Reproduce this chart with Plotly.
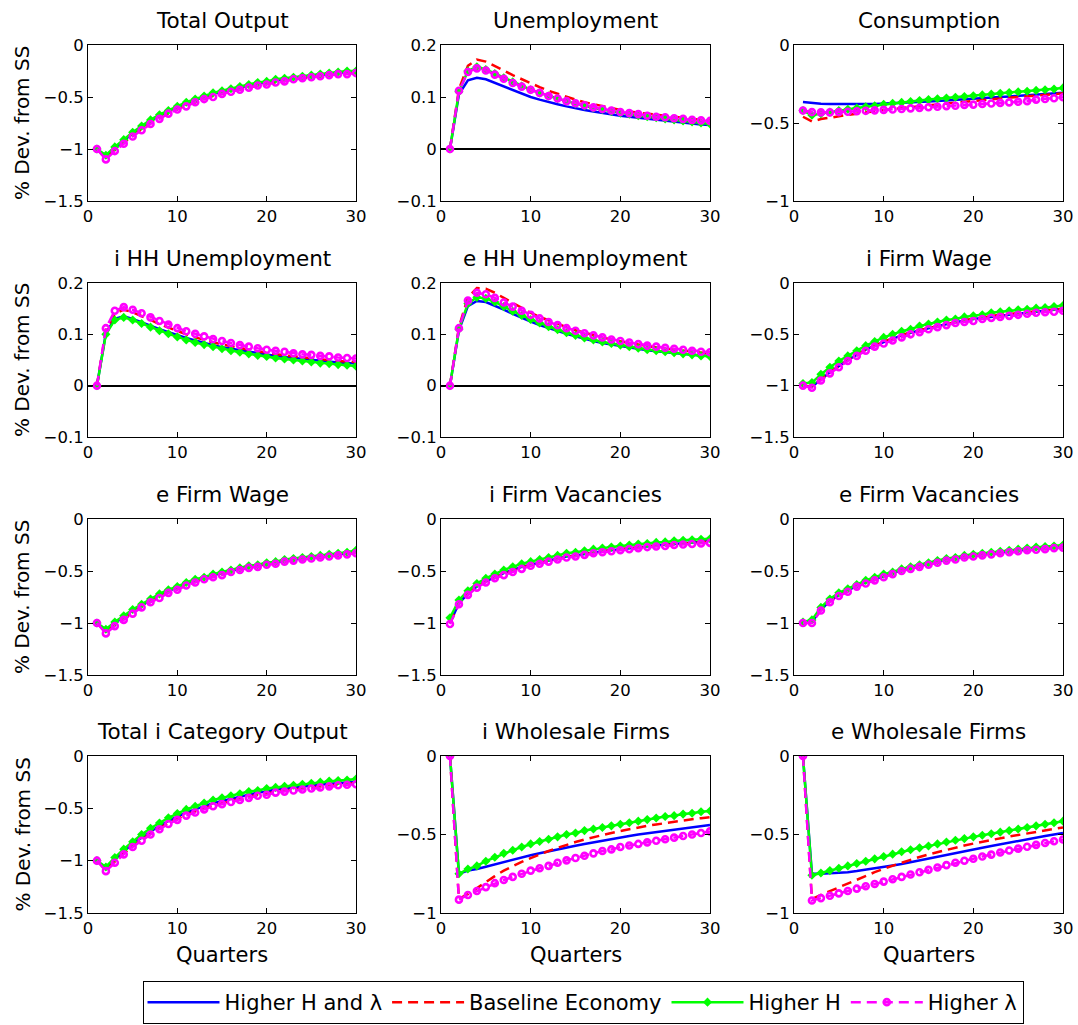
import plotly.graph_objects as go

W, H = 1078, 1025
FONT = "DejaVu Sans"

quarters = list(range(1, 31))
series_names = ["Higher H and λ", "Baseline Economy", "Higher H", "Higher λ"]
panel_titles = ["Total Output", "Unemployment", "Consumption",
                "i HH Unemployment", "e HH Unemployment", "i Firm Wage",
                "e Firm Wage", "i Firm Vacancies", "e Firm Vacancies",
                "Total i Category Output", "i Wholesale Firms", "e Wholesale Firms"]
x_ticks = [0, 10, 20, 30]
y_ticks = {
    "a": [-1.5, -1, -0.5, 0],
    "b": [-0.1, 0, 0.1, 0.2],
    "c": [-1, -0.5, 0],
}
y_tick_text = {
    "a": ["−1.5", "−1", "−0.5", "0"],
    "b": ["−0.1", "0", "0.1", "0.2"],
    "c": ["−1", "−0.5", "0"],
}
panel_scale = ["a", "b", "c", "b", "b", "a", "a", "a", "a", "a", "c", "c"]

# ---- Total Output
TO_b = [-1.00,-1.07,-0.99,-0.92,-0.85,-0.79,-0.73,-0.68,-0.64,-0.60,-0.56,-0.53,-0.50,-0.47,-0.45,-0.43,-0.41,-0.39,-0.37,-0.36,-0.34,-0.33,-0.32,-0.31,-0.30,-0.29,-0.28,-0.27,-0.26,-0.26]
TO_r = [-1.00,-1.09,-1.01,-0.94,-0.87,-0.81,-0.75,-0.70,-0.66,-0.62,-0.58,-0.55,-0.52,-0.49,-0.47,-0.45,-0.43,-0.41,-0.39,-0.37,-0.36,-0.34,-0.33,-0.32,-0.31,-0.30,-0.29,-0.28,-0.27,-0.27]
TO_g = [-1.00,-1.06,-0.98,-0.91,-0.84,-0.78,-0.72,-0.67,-0.63,-0.59,-0.55,-0.52,-0.49,-0.46,-0.44,-0.42,-0.40,-0.38,-0.36,-0.35,-0.33,-0.32,-0.31,-0.30,-0.29,-0.28,-0.27,-0.26,-0.25,-0.25]
TO_m = [-1.00,-1.10,-1.02,-0.95,-0.88,-0.82,-0.76,-0.71,-0.66,-0.62,-0.59,-0.55,-0.52,-0.50,-0.47,-0.45,-0.43,-0.41,-0.39,-0.38,-0.36,-0.35,-0.33,-0.32,-0.31,-0.30,-0.29,-0.28,-0.28,-0.27]
# ---- Unemployment
UN_b = [0,0.105,0.132,0.137,0.134,0.127,0.120,0.113,0.106,0.100,0.095,0.090,0.086,0.082,0.078,0.075,0.072,0.069,0.066,0.064,0.062,0.060,0.058,0.056,0.054,0.052,0.050,0.049,0.047,0.046]
UN_r = [0,0.115,0.160,0.172,0.168,0.160,0.151,0.142,0.134,0.126,0.119,0.112,0.106,0.100,0.095,0.090,0.086,0.082,0.078,0.075,0.072,0.070,0.067,0.065,0.063,0.061,0.059,0.058,0.056,0.055]
UN_g = [0,0.110,0.150,0.158,0.153,0.145,0.137,0.129,0.121,0.114,0.108,0.102,0.097,0.092,0.087,0.083,0.079,0.076,0.072,0.069,0.067,0.064,0.062,0.060,0.058,0.056,0.054,0.052,0.050,0.048]
UN_m = [0,0.112,0.148,0.155,0.151,0.143,0.135,0.127,0.120,0.114,0.108,0.102,0.097,0.092,0.088,0.084,0.080,0.077,0.074,0.071,0.069,0.067,0.064,0.062,0.061,0.059,0.058,0.056,0.055,0.054]
# ---- Consumption
CO_b = [-0.365,-0.372,-0.376,-0.378,-0.379,-0.380,-0.380,-0.379,-0.378,-0.376,-0.374,-0.371,-0.368,-0.365,-0.362,-0.359,-0.356,-0.352,-0.349,-0.345,-0.342,-0.338,-0.334,-0.330,-0.326,-0.322,-0.318,-0.314,-0.310,-0.306]
CO_r = [-0.460,-0.490,-0.475,-0.465,-0.456,-0.448,-0.440,-0.432,-0.425,-0.418,-0.411,-0.404,-0.398,-0.392,-0.386,-0.380,-0.374,-0.368,-0.363,-0.358,-0.353,-0.348,-0.343,-0.338,-0.333,-0.328,-0.324,-0.319,-0.315,-0.310]
CO_g = [-0.420,-0.450,-0.440,-0.430,-0.420,-0.412,-0.404,-0.396,-0.389,-0.380,-0.374,-0.368,-0.362,-0.356,-0.350,-0.345,-0.340,-0.335,-0.330,-0.325,-0.320,-0.315,-0.310,-0.305,-0.300,-0.296,-0.291,-0.287,-0.282,-0.275]
CO_m = [-0.420,-0.430,-0.432,-0.432,-0.430,-0.428,-0.425,-0.422,-0.419,-0.416,-0.413,-0.410,-0.406,-0.403,-0.399,-0.396,-0.392,-0.389,-0.385,-0.382,-0.378,-0.375,-0.371,-0.368,-0.364,-0.360,-0.350,-0.346,-0.341,-0.335]
# ---- i HH Unemployment
IU_b = [0,0.102,0.130,0.135,0.130,0.124,0.117,0.110,0.104,0.098,0.093,0.088,0.083,0.079,0.075,0.072,0.069,0.066,0.063,0.060,0.058,0.056,0.054,0.052,0.050,0.048,0.047,0.045,0.044,0.043]
IU_r = [0,0.108,0.140,0.148,0.143,0.136,0.128,0.120,0.113,0.106,0.100,0.094,0.089,0.085,0.080,0.077,0.073,0.070,0.067,0.064,0.062,0.059,0.057,0.055,0.053,0.052,0.050,0.048,0.047,0.046]
IU_g = [0,0.100,0.128,0.133,0.128,0.121,0.114,0.107,0.101,0.095,0.089,0.084,0.080,0.076,0.072,0.068,0.065,0.062,0.059,0.057,0.054,0.052,0.050,0.048,0.046,0.044,0.043,0.041,0.040,0.038]
IU_m = [0,0.112,0.146,0.153,0.148,0.141,0.133,0.126,0.119,0.112,0.106,0.101,0.096,0.091,0.087,0.083,0.079,0.076,0.073,0.070,0.068,0.066,0.063,0.061,0.060,0.058,0.057,0.055,0.054,0.053]
# ---- e HH Unemployment
EU_b = [0,0.108,0.155,0.165,0.163,0.156,0.148,0.140,0.132,0.125,0.118,0.112,0.106,0.101,0.096,0.091,0.087,0.083,0.080,0.077,0.074,0.072,0.069,0.067,0.065,0.063,0.061,0.060,0.059,0.058]
EU_r = [0,0.114,0.172,0.190,0.189,0.181,0.171,0.161,0.151,0.142,0.134,0.127,0.120,0.114,0.108,0.103,0.098,0.094,0.090,0.086,0.083,0.080,0.077,0.075,0.072,0.070,0.068,0.066,0.065,0.063]
EU_g = [0,0.110,0.160,0.172,0.170,0.163,0.154,0.145,0.137,0.129,0.122,0.115,0.109,0.103,0.098,0.093,0.089,0.085,0.082,0.079,0.076,0.073,0.070,0.068,0.066,0.064,0.062,0.060,0.058,0.057]
EU_m = [0,0.112,0.166,0.181,0.178,0.171,0.162,0.154,0.146,0.138,0.131,0.124,0.118,0.112,0.107,0.102,0.098,0.094,0.090,0.087,0.084,0.081,0.078,0.076,0.074,0.072,0.070,0.068,0.066,0.065]
# ---- i Firm Wage
IW_b = [-1.00,-1.01,-0.94,-0.87,-0.81,-0.75,-0.70,-0.65,-0.61,-0.575,-0.54,-0.51,-0.485,-0.46,-0.44,-0.42,-0.40,-0.38,-0.365,-0.35,-0.34,-0.325,-0.315,-0.305,-0.295,-0.285,-0.275,-0.265,-0.26,-0.25]
IW_r = [-1.00,-1.01,-0.94,-0.87,-0.81,-0.75,-0.70,-0.65,-0.61,-0.57,-0.54,-0.51,-0.48,-0.46,-0.44,-0.42,-0.40,-0.38,-0.36,-0.35,-0.34,-0.32,-0.31,-0.30,-0.29,-0.28,-0.27,-0.265,-0.26,-0.25]
IW_g = [-0.98,-0.97,-0.89,-0.82,-0.76,-0.71,-0.66,-0.61,-0.57,-0.53,-0.50,-0.47,-0.45,-0.42,-0.40,-0.38,-0.36,-0.35,-0.33,-0.32,-0.31,-0.29,-0.28,-0.27,-0.26,-0.255,-0.245,-0.24,-0.23,-0.22]
IW_m = [-1.00,-1.02,-0.95,-0.88,-0.82,-0.76,-0.71,-0.66,-0.62,-0.59,-0.56,-0.53,-0.50,-0.48,-0.45,-0.43,-0.41,-0.39,-0.38,-0.37,-0.35,-0.34,-0.33,-0.32,-0.31,-0.30,-0.29,-0.285,-0.28,-0.27]
# ---- e Firm Wage
EW_b = [-1.00,-1.07,-1.00,-0.94,-0.88,-0.83,-0.78,-0.73,-0.69,-0.66,-0.62,-0.59,-0.57,-0.54,-0.52,-0.50,-0.48,-0.46,-0.45,-0.43,-0.42,-0.40,-0.39,-0.38,-0.37,-0.36,-0.35,-0.34,-0.33,-0.31]
EW_r = [-1.00,-1.09,-1.02,-0.96,-0.90,-0.84,-0.79,-0.75,-0.70,-0.67,-0.63,-0.60,-0.57,-0.55,-0.53,-0.50,-0.48,-0.46,-0.45,-0.43,-0.42,-0.40,-0.39,-0.38,-0.37,-0.36,-0.35,-0.34,-0.33,-0.32]
EW_g = [-1.00,-1.06,-0.99,-0.93,-0.87,-0.82,-0.77,-0.72,-0.68,-0.65,-0.61,-0.58,-0.56,-0.53,-0.51,-0.49,-0.47,-0.45,-0.44,-0.42,-0.41,-0.39,-0.38,-0.37,-0.36,-0.35,-0.34,-0.33,-0.32,-0.30]
EW_m = [-1.00,-1.10,-1.03,-0.97,-0.91,-0.85,-0.80,-0.76,-0.71,-0.68,-0.64,-0.61,-0.58,-0.56,-0.54,-0.51,-0.49,-0.47,-0.46,-0.44,-0.43,-0.41,-0.40,-0.39,-0.38,-0.37,-0.36,-0.35,-0.34,-0.33]
# ---- i Firm Vacancies
IV_b = [-1.00,-0.81,-0.72,-0.65,-0.60,-0.56,-0.52,-0.49,-0.46,-0.44,-0.42,-0.40,-0.38,-0.36,-0.35,-0.335,-0.32,-0.31,-0.30,-0.29,-0.28,-0.27,-0.26,-0.25,-0.245,-0.24,-0.23,-0.225,-0.22,-0.21]
IV_r = [-1.00,-0.81,-0.72,-0.65,-0.60,-0.56,-0.53,-0.50,-0.47,-0.44,-0.42,-0.40,-0.38,-0.365,-0.35,-0.335,-0.32,-0.31,-0.30,-0.29,-0.28,-0.27,-0.26,-0.255,-0.25,-0.24,-0.235,-0.23,-0.22,-0.215]
IV_g = [-0.95,-0.78,-0.69,-0.62,-0.57,-0.53,-0.49,-0.46,-0.43,-0.41,-0.39,-0.37,-0.35,-0.33,-0.32,-0.305,-0.29,-0.28,-0.27,-0.26,-0.25,-0.24,-0.235,-0.225,-0.22,-0.21,-0.205,-0.20,-0.195,-0.19]
IV_m = [-1.01,-0.82,-0.73,-0.66,-0.61,-0.57,-0.54,-0.51,-0.48,-0.45,-0.43,-0.41,-0.39,-0.37,-0.36,-0.345,-0.33,-0.32,-0.31,-0.30,-0.29,-0.28,-0.27,-0.265,-0.26,-0.25,-0.245,-0.24,-0.235,-0.23]
# ---- e Firm Vacancies
EV_b = [-1.00,-0.99,-0.87,-0.79,-0.73,-0.69,-0.64,-0.61,-0.58,-0.55,-0.52,-0.49,-0.47,-0.45,-0.43,-0.41,-0.39,-0.38,-0.36,-0.35,-0.34,-0.33,-0.32,-0.31,-0.30,-0.29,-0.285,-0.28,-0.27,-0.265]
EV_r = [-1.00,-0.99,-0.87,-0.79,-0.73,-0.69,-0.64,-0.61,-0.58,-0.55,-0.52,-0.50,-0.47,-0.45,-0.43,-0.41,-0.40,-0.38,-0.37,-0.36,-0.34,-0.33,-0.32,-0.31,-0.30,-0.295,-0.29,-0.28,-0.275,-0.27]
EV_g = [-0.99,-0.97,-0.85,-0.77,-0.71,-0.67,-0.63,-0.59,-0.56,-0.53,-0.51,-0.48,-0.46,-0.44,-0.42,-0.40,-0.38,-0.37,-0.35,-0.34,-0.33,-0.32,-0.31,-0.30,-0.29,-0.28,-0.27,-0.265,-0.26,-0.25]
EV_m = [-1.00,-1.00,-0.88,-0.80,-0.74,-0.70,-0.65,-0.62,-0.59,-0.56,-0.53,-0.50,-0.48,-0.46,-0.44,-0.42,-0.40,-0.39,-0.37,-0.36,-0.35,-0.34,-0.33,-0.32,-0.31,-0.30,-0.295,-0.29,-0.28,-0.275]
# ---- Total i Category Output
TI_b = [-1.00,-1.07,-0.99,-0.91,-0.84,-0.78,-0.72,-0.67,-0.62,-0.58,-0.54,-0.51,-0.48,-0.45,-0.43,-0.41,-0.39,-0.37,-0.35,-0.34,-0.32,-0.31,-0.30,-0.29,-0.28,-0.27,-0.265,-0.26,-0.25,-0.245]
TI_r = [-1.00,-1.09,-1.01,-0.93,-0.86,-0.80,-0.74,-0.69,-0.64,-0.60,-0.56,-0.53,-0.50,-0.47,-0.45,-0.43,-0.41,-0.39,-0.37,-0.36,-0.34,-0.33,-0.32,-0.31,-0.30,-0.29,-0.28,-0.27,-0.265,-0.26]
TI_g = [-1.00,-1.06,-0.97,-0.89,-0.82,-0.75,-0.69,-0.64,-0.59,-0.55,-0.51,-0.48,-0.45,-0.42,-0.40,-0.38,-0.36,-0.34,-0.33,-0.31,-0.30,-0.29,-0.28,-0.27,-0.26,-0.25,-0.24,-0.235,-0.23,-0.22]
TI_m = [-1.00,-1.10,-1.02,-0.94,-0.87,-0.81,-0.75,-0.70,-0.65,-0.61,-0.57,-0.54,-0.51,-0.48,-0.46,-0.44,-0.42,-0.40,-0.38,-0.37,-0.35,-0.34,-0.33,-0.32,-0.31,-0.30,-0.29,-0.28,-0.275,-0.27]
# ---- i Wholesale Firms
IF_b = [0,-0.750,-0.730,-0.720,-0.705,-0.690,-0.675,-0.660,-0.645,-0.632,-0.620,-0.607,-0.595,-0.583,-0.572,-0.561,-0.550,-0.540,-0.530,-0.520,-0.510,-0.500,-0.492,-0.484,-0.476,-0.468,-0.460,-0.453,-0.446,-0.440]
IF_r = [0,-0.910,-0.880,-0.840,-0.800,-0.765,-0.730,-0.700,-0.675,-0.650,-0.625,-0.605,-0.585,-0.565,-0.548,-0.532,-0.517,-0.503,-0.490,-0.478,-0.466,-0.455,-0.445,-0.436,-0.427,-0.418,-0.410,-0.403,-0.396,-0.390]
IF_g = [0,-0.750,-0.720,-0.700,-0.670,-0.645,-0.620,-0.600,-0.580,-0.560,-0.545,-0.530,-0.515,-0.500,-0.490,-0.475,-0.465,-0.455,-0.445,-0.435,-0.425,-0.415,-0.405,-0.395,-0.385,-0.380,-0.370,-0.365,-0.355,-0.350]
IF_m = [0,-0.915,-0.885,-0.860,-0.835,-0.810,-0.790,-0.770,-0.750,-0.730,-0.715,-0.700,-0.680,-0.665,-0.650,-0.635,-0.620,-0.605,-0.595,-0.580,-0.570,-0.560,-0.550,-0.540,-0.530,-0.520,-0.510,-0.500,-0.490,-0.480]
# ---- e Wholesale Firms
EF_b = [0,-0.750,-0.750,-0.748,-0.745,-0.740,-0.733,-0.725,-0.717,-0.708,-0.698,-0.688,-0.677,-0.666,-0.655,-0.644,-0.632,-0.620,-0.608,-0.597,-0.585,-0.573,-0.562,-0.550,-0.540,-0.530,-0.520,-0.510,-0.500,-0.490]
EF_r = [0,-0.910,-0.885,-0.860,-0.835,-0.810,-0.785,-0.762,-0.740,-0.718,-0.698,-0.678,-0.660,-0.643,-0.627,-0.612,-0.597,-0.583,-0.570,-0.558,-0.546,-0.535,-0.524,-0.513,-0.503,-0.493,-0.483,-0.473,-0.464,-0.455]
EF_g = [0,-0.760,-0.745,-0.730,-0.715,-0.700,-0.685,-0.670,-0.655,-0.640,-0.625,-0.610,-0.597,-0.585,-0.573,-0.560,-0.548,-0.537,-0.526,-0.515,-0.505,-0.495,-0.485,-0.475,-0.465,-0.455,-0.445,-0.435,-0.425,-0.415]
EF_m = [0,-0.920,-0.905,-0.890,-0.875,-0.860,-0.845,-0.830,-0.815,-0.800,-0.785,-0.770,-0.755,-0.740,-0.725,-0.710,-0.695,-0.680,-0.667,-0.654,-0.640,-0.628,-0.615,-0.602,-0.590,-0.578,-0.566,-0.554,-0.543,-0.532]

panel_data = [
    (TO_b, TO_r, TO_g, TO_m), (UN_b, UN_r, UN_g, UN_m), (CO_b, CO_r, CO_g, CO_m),
    (IU_b, IU_r, IU_g, IU_m), (EU_b, EU_r, EU_g, EU_m), (IW_b, IW_r, IW_g, IW_m),
    (EW_b, EW_r, EW_g, EW_m), (IV_b, IV_r, IV_g, IV_m), (EV_b, EV_r, EV_g, EV_m),
    (TI_b, TI_r, TI_g, TI_m), (IF_b, IF_r, IF_g, IF_m), (EF_b, EF_r, EF_g, EF_m),
]

# ---- layout geometry (pixels)
col_px = [(88, 356), (441, 710), (794, 1063)]
row_px = [(45, 201), (283, 437), (519, 675), (756, 913)]

styles = [
    dict(mode="lines", line=dict(color="rgb(0,0,255)", width=2.5)),
    dict(mode="lines", line=dict(color="rgb(255,0,0)", width=2.5, dash="10px,6px")),
    dict(mode="lines+markers", line=dict(color="rgb(0,255,0)", width=2.5),
         marker=dict(symbol="diamond", size=7, color="rgb(0,255,0)")),
    dict(mode="lines+markers", line=dict(color="rgb(255,0,255)", width=2.5, dash="10px,6px"),
         marker=dict(symbol="circle-open", size=6, color="rgb(255,0,255)",
                     line=dict(width=2.6, color="rgb(255,0,255)"))),
]

fig = go.Figure()
annotations = []
layout_axes = {}
for p in range(12):
    r, c = divmod(p, 3)
    x0, x1 = col_px[c]
    yt, yb = row_px[r]
    ax = "" if p == 0 else str(p + 1)
    sc = panel_scale[p]
    for s in range(4):
        fig.add_trace(go.Scatter(
            x=quarters, y=panel_data[p][s], name=series_names[s],
            xaxis="x" + ax, yaxis="y" + ax,
            showlegend=(p == 0), legendgroup=series_names[s],
            hoverinfo="skip", cliponaxis=True, **styles[s]))
    common = dict(showline=True, linecolor="black", linewidth=1, mirror="allticks",
                  ticks="inside", ticklen=5, tickcolor="black", showgrid=False,
                  tickfont=dict(family=FONT, size=16.5, color="black"))
    layout_axes["xaxis" + ax] = dict(
        domain=[x0 / W, x1 / W], range=[0, 30], tickvals=x_ticks,
        anchor="y" + ax, zeroline=False, **common)
    layout_axes["yaxis" + ax] = dict(
        domain=[1 - yb / H, 1 - yt / H], range=[y_ticks[sc][0], y_ticks[sc][-1]],
        tickvals=y_ticks[sc], ticktext=y_tick_text[sc], anchor="x" + ax,
        zeroline=(sc == "b"), zerolinecolor="black", zerolinewidth=1.5, **common)
    annotations.append(dict(
        text=panel_titles[p], x=(x0 + x1) / 2 / W, y=1 - (yt - 25) / H,
        xref="paper", yref="paper", xanchor="center", yanchor="middle",
        showarrow=False, font=dict(family=FONT, size=21.5, color="black")))
    if c == 0:
        annotations.append(dict(
            text="% Dev. from SS", x=22 / W, y=1 - (yt + yb) / 2 / H,
            xref="paper", yref="paper", xanchor="center", yanchor="middle",
            textangle=-90, showarrow=False,
            font=dict(family=FONT, size=20, color="black")))
    if r == 3:
        annotations.append(dict(
            text="Quarters", x=(x0 + x1) / 2 / W, y=1 - (yb + 42) / H,
            xref="paper", yref="paper", xanchor="center", yanchor="middle",
            showarrow=False, font=dict(family=FONT, size=21, color="black")))

fig.update_layout(
    width=W, height=H, margin=dict(l=0, r=0, t=0, b=0, autoexpand=False),
    paper_bgcolor="white", plot_bgcolor="white",
    annotations=annotations,
    legend=dict(orientation="h", x=583 / W, xanchor="center", y=1 / H, yanchor="bottom",
                bordercolor="black", borderwidth=1, bgcolor="white",
                font=dict(family=FONT, size=21, color="black"),
                itemwidth=72, tracegroupgap=0),
    **layout_axes)

fig.write_html("out.html")
